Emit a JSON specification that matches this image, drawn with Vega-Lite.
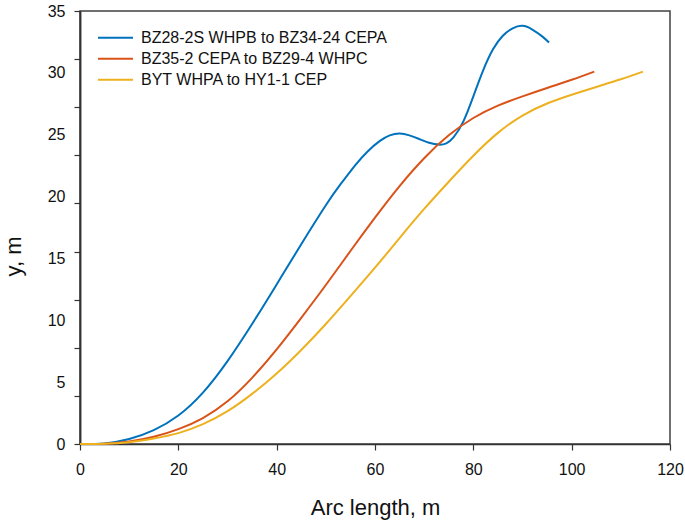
{
  "$schema": "https://vega.github.io/schema/vega-lite/v6.json",
  "width": 590,
  "height": 433,
  "autosize": {"type": "none"},
  "padding": {"left": 80, "top": 11, "right": 15, "bottom": 82},
  "background": "white",
  "config": {
    "font": "Liberation Sans",
    "view": {"stroke": "#404040", "strokeWidth": 1.5},
    "axis": {
      "domainColor": "#333333",
      "domainWidth": 1.5,
      "tickColor": "#333333",
      "tickWidth": 1.2,
      "tickSize": 6,
      "grid": false,
      "labelFont": "Liberation Sans",
      "labelFontSize": 16,
      "labelColor": "#111111",
      "titleFont": "Liberation Sans",
      "titleFontSize": 22,
      "titleFontWeight": "normal",
      "titleColor": "#111111"
    }
  },
  "data": {
    "values": [
      {"s": "BZ28-2S WHPB to BZ34-24 CEPA", "x": 0, "y": 0},
      {"s": "BZ28-2S WHPB to BZ34-24 CEPA", "x": 5, "y": 0.05},
      {"s": "BZ28-2S WHPB to BZ34-24 CEPA", "x": 10, "y": 0.4},
      {"s": "BZ28-2S WHPB to BZ34-24 CEPA", "x": 15, "y": 1.12},
      {"s": "BZ28-2S WHPB to BZ34-24 CEPA", "x": 20, "y": 2.3},
      {"s": "BZ28-2S WHPB to BZ34-24 CEPA", "x": 25, "y": 4.15},
      {"s": "BZ28-2S WHPB to BZ34-24 CEPA", "x": 30, "y": 6.7},
      {"s": "BZ28-2S WHPB to BZ34-24 CEPA", "x": 35, "y": 9.7},
      {"s": "BZ28-2S WHPB to BZ34-24 CEPA", "x": 40, "y": 12.9},
      {"s": "BZ28-2S WHPB to BZ34-24 CEPA", "x": 45, "y": 16.15},
      {"s": "BZ28-2S WHPB to BZ34-24 CEPA", "x": 50, "y": 19.3},
      {"s": "BZ28-2S WHPB to BZ34-24 CEPA", "x": 53, "y": 21.0},
      {"s": "BZ28-2S WHPB to BZ34-24 CEPA", "x": 56, "y": 22.55},
      {"s": "BZ28-2S WHPB to BZ34-24 CEPA", "x": 58.5, "y": 23.65},
      {"s": "BZ28-2S WHPB to BZ34-24 CEPA", "x": 61, "y": 24.5},
      {"s": "BZ28-2S WHPB to BZ34-24 CEPA", "x": 63, "y": 24.95},
      {"s": "BZ28-2S WHPB to BZ34-24 CEPA", "x": 65, "y": 25.1},
      {"s": "BZ28-2S WHPB to BZ34-24 CEPA", "x": 67, "y": 24.95},
      {"s": "BZ28-2S WHPB to BZ34-24 CEPA", "x": 69, "y": 24.65},
      {"s": "BZ28-2S WHPB to BZ34-24 CEPA", "x": 71, "y": 24.35},
      {"s": "BZ28-2S WHPB to BZ34-24 CEPA", "x": 73, "y": 24.2},
      {"s": "BZ28-2S WHPB to BZ34-24 CEPA", "x": 74.5, "y": 24.3},
      {"s": "BZ28-2S WHPB to BZ34-24 CEPA", "x": 76, "y": 24.8},
      {"s": "BZ28-2S WHPB to BZ34-24 CEPA", "x": 78, "y": 26.1},
      {"s": "BZ28-2S WHPB to BZ34-24 CEPA", "x": 80, "y": 28.1},
      {"s": "BZ28-2S WHPB to BZ34-24 CEPA", "x": 82, "y": 30.2},
      {"s": "BZ28-2S WHPB to BZ34-24 CEPA", "x": 84, "y": 31.9},
      {"s": "BZ28-2S WHPB to BZ34-24 CEPA", "x": 86, "y": 33.0},
      {"s": "BZ28-2S WHPB to BZ34-24 CEPA", "x": 88, "y": 33.6},
      {"s": "BZ28-2S WHPB to BZ34-24 CEPA", "x": 90, "y": 33.8},
      {"s": "BZ28-2S WHPB to BZ34-24 CEPA", "x": 92, "y": 33.5},
      {"s": "BZ28-2S WHPB to BZ34-24 CEPA", "x": 94, "y": 32.95},
      {"s": "BZ28-2S WHPB to BZ34-24 CEPA", "x": 95.4, "y": 32.45},
      {"s": "BZ35-2 CEPA to BZ29-4 WHPC", "x": 0, "y": 0},
      {"s": "BZ35-2 CEPA to BZ29-4 WHPC", "x": 5, "y": 0.03},
      {"s": "BZ35-2 CEPA to BZ29-4 WHPC", "x": 10, "y": 0.2},
      {"s": "BZ35-2 CEPA to BZ29-4 WHPC", "x": 15, "y": 0.58},
      {"s": "BZ35-2 CEPA to BZ29-4 WHPC", "x": 20, "y": 1.2},
      {"s": "BZ35-2 CEPA to BZ29-4 WHPC", "x": 25, "y": 2.1},
      {"s": "BZ35-2 CEPA to BZ29-4 WHPC", "x": 30, "y": 3.45},
      {"s": "BZ35-2 CEPA to BZ29-4 WHPC", "x": 35, "y": 5.35},
      {"s": "BZ35-2 CEPA to BZ29-4 WHPC", "x": 40, "y": 7.65},
      {"s": "BZ35-2 CEPA to BZ29-4 WHPC", "x": 45, "y": 10.2},
      {"s": "BZ35-2 CEPA to BZ29-4 WHPC", "x": 50, "y": 12.85},
      {"s": "BZ35-2 CEPA to BZ29-4 WHPC", "x": 55, "y": 15.6},
      {"s": "BZ35-2 CEPA to BZ29-4 WHPC", "x": 60, "y": 18.3},
      {"s": "BZ35-2 CEPA to BZ29-4 WHPC", "x": 65, "y": 20.85},
      {"s": "BZ35-2 CEPA to BZ29-4 WHPC", "x": 70, "y": 23.1},
      {"s": "BZ35-2 CEPA to BZ29-4 WHPC", "x": 75, "y": 24.95},
      {"s": "BZ35-2 CEPA to BZ29-4 WHPC", "x": 80, "y": 26.35},
      {"s": "BZ35-2 CEPA to BZ29-4 WHPC", "x": 85, "y": 27.35},
      {"s": "BZ35-2 CEPA to BZ29-4 WHPC", "x": 90, "y": 28.1},
      {"s": "BZ35-2 CEPA to BZ29-4 WHPC", "x": 95, "y": 28.78},
      {"s": "BZ35-2 CEPA to BZ29-4 WHPC", "x": 100, "y": 29.44},
      {"s": "BZ35-2 CEPA to BZ29-4 WHPC", "x": 104.6, "y": 30.1},
      {"s": "BYT WHPA to HY1-1 CEP", "x": 0, "y": 0},
      {"s": "BYT WHPA to HY1-1 CEP", "x": 5, "y": 0.02},
      {"s": "BYT WHPA to HY1-1 CEP", "x": 10, "y": 0.15},
      {"s": "BYT WHPA to HY1-1 CEP", "x": 15, "y": 0.45},
      {"s": "BYT WHPA to HY1-1 CEP", "x": 20, "y": 0.88},
      {"s": "BYT WHPA to HY1-1 CEP", "x": 25, "y": 1.6},
      {"s": "BYT WHPA to HY1-1 CEP", "x": 30, "y": 2.65},
      {"s": "BYT WHPA to HY1-1 CEP", "x": 35, "y": 4.05},
      {"s": "BYT WHPA to HY1-1 CEP", "x": 40, "y": 5.7},
      {"s": "BYT WHPA to HY1-1 CEP", "x": 45, "y": 7.6},
      {"s": "BYT WHPA to HY1-1 CEP", "x": 50, "y": 9.7},
      {"s": "BYT WHPA to HY1-1 CEP", "x": 55, "y": 11.95},
      {"s": "BYT WHPA to HY1-1 CEP", "x": 60, "y": 14.25},
      {"s": "BYT WHPA to HY1-1 CEP", "x": 65, "y": 16.65},
      {"s": "BYT WHPA to HY1-1 CEP", "x": 70, "y": 19.0},
      {"s": "BYT WHPA to HY1-1 CEP", "x": 75, "y": 21.2},
      {"s": "BYT WHPA to HY1-1 CEP", "x": 80, "y": 23.3},
      {"s": "BYT WHPA to HY1-1 CEP", "x": 85, "y": 25.15},
      {"s": "BYT WHPA to HY1-1 CEP", "x": 90, "y": 26.55},
      {"s": "BYT WHPA to HY1-1 CEP", "x": 95, "y": 27.52},
      {"s": "BYT WHPA to HY1-1 CEP", "x": 100, "y": 28.23},
      {"s": "BYT WHPA to HY1-1 CEP", "x": 105, "y": 28.86},
      {"s": "BYT WHPA to HY1-1 CEP", "x": 110, "y": 29.48},
      {"s": "BYT WHPA to HY1-1 CEP", "x": 114.5, "y": 30.1}
    ]
  },
  "encoding": {
    "x": {
      "field": "x",
      "type": "quantitative",
      "scale": {"domain": [0, 120], "nice": false, "zero": false},
      "axis": {"values": [0, 20, 40, 60, 80, 100, 120], "labelPadding": 11, "title": "Arc length, m", "titlePadding": 20, "labelFlush": false}
    }
  },
  "layer": [
    {
      "mark": {"type": "line", "strokeWidth": 2, "interpolate": "natural"},
      "encoding": {
        "y": {
          "field": "y",
          "type": "quantitative",
          "scale": {"domain": [0, 35], "nice": false},
          "axis": {"orient": "left", "values": [0, 5, 10, 15, 20, 25, 30, 35], "ticks": false, "labelPadding": 15, "title": "y, m", "titlePadding": 22, "titleY": 245, "labelFlush": false}
        },
        "color": {
          "field": "s",
          "type": "nominal",
          "sort": ["BZ28-2S WHPB to BZ34-24 CEPA", "BZ35-2 CEPA to BZ29-4 WHPC", "BYT WHPA to HY1-1 CEP"],
          "scale": {"domain": ["BZ28-2S WHPB to BZ34-24 CEPA", "BZ35-2 CEPA to BZ29-4 WHPC", "BYT WHPA to HY1-1 CEP"], "range": ["#0072BD", "#D95319", "#EDB120"]},
          "legend": {
            "orient": "none", "legendX": 27.5, "legendY": 18.7, "title": null, "padding": 0,
            "symbolType": "M-3.5,0H3.5", "symbolSize": 100, "symbolStrokeWidth": 2,
            "labelFontSize": 16, "labelFont": "Liberation Sans", "labelColor": "#111111",
            "labelOffset": 17.5, "labelLimit": 0, "rowPadding": 5
          }
        }
      }
    },
    {
      "mark": {"type": "line", "opacity": 0},
      "encoding": {
        "y": {
          "field": "y",
          "type": "quantitative",
          "axis": {"orient": "left", "values": [0, 3.8889, 7.7778, 11.6667, 15.5556, 19.4444, 23.3333, 27.2222, 31.1111, 35], "labels": false, "title": null, "tickSize": 6}
        },
        "detail": {"field": "s"}
      }
    }
  ],
  "resolve": {"axis": {"y": "independent"}}
}
